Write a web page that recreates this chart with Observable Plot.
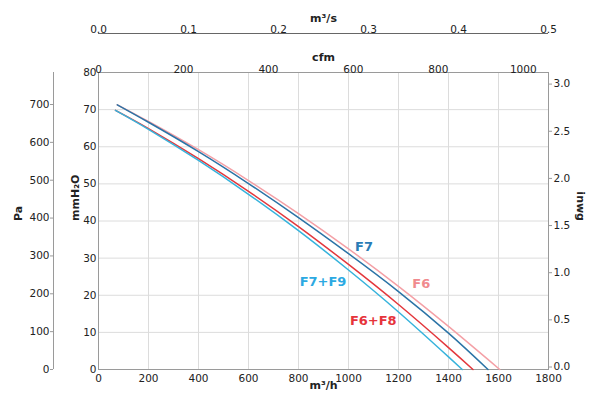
<!DOCTYPE html>
<html>
<head>
<meta charset="utf-8">
<script src="https://cdn.jsdelivr.net/npm/d3@7"></script>
<script src="https://cdn.jsdelivr.net/npm/@observablehq/plot@0.6"></script>
<style>
  html, body { margin: 0; padding: 0; background: #fff; }
  #chart svg { display: block; }
</style>
</head>
<body>
<div id="chart"></div>
<script>
// Flow (m³/h) and pressure (mmH2O)
const flowF6    = [75, 200, 400, 600, 800, 1000, 1200, 1400, 1605];
const presF6    = [71.3, 66.8, 59.2, 50.9, 42.0, 32.5, 22.4, 11.6, 0];
const flowF7    = [75, 200, 400, 600, 800, 1000, 1200, 1400, 1558];
const presF7    = [71.3, 66.6, 58.7, 50.1, 40.9, 31.2, 21.0, 9.8, 0];
const flowF6F8  = [68, 200, 400, 600, 800, 1000, 1200, 1400, 1498];
const presF6F8  = [69.8, 64.9, 56.8, 48.0, 38.5, 28.3, 17.5, 5.9, 0];
const flowF7F9  = [68, 200, 400, 600, 800, 1000, 1200, 1400, 1455];
const presF7F9  = [69.8, 64.7, 56.3, 47.2, 37.4, 26.8, 15.5, 3.4, 0];

const seriesNames  = ["F6", "F7", "F6+F8", "F7+F9"];
const seriesColors = ["#f4a0a6", "#2b73a6", "#e3373c", "#36b3dc"];
const labelColors  = ["#f08a8e", "#2a7cb6", "#e6343b", "#2ca9e2"];
// label anchor positions (m³/h, mmH2O)
const labelFlow = [1291, 1062, 1099, 898];
const labelPres = [23.2, 33.1, 13.2, 23.7];

// axis ticks
const ticksM3h  = [0, 200, 400, 600, 800, 1000, 1200, 1400, 1600, 1800];
const ticksMm   = [0, 10, 20, 30, 40, 50, 60, 70, 80];
const ticksPa   = [0, 100, 200, 300, 400, 500, 600, 700];
const ticksInwg = [0, 0.5, 1.0, 1.5, 2.0, 2.5, 3.0];
const ticksCfm  = [0, 200, 400, 600, 800, 1000];
const ticksM3s  = [0, 0.1, 0.2, 0.3, 0.4, 0.5];

const PA_PER_MM = 9.80665, MM_PER_INWG = 25.4, M3H_PER_CFM = 1.69901, M3H_PER_M3S = 3600;

const flows = [flowF6, flowF7, flowF6F8, flowF7F9];
const press = [presF6, presF7, presF6F8, presF7F9];
const rows = [];
seriesNames.forEach((s, i) => flows[i].forEach((q, j) => rows.push({series: s, q, p: press[i][j]})));
const labels = seriesNames.map((s, i) => ({series: s, q: labelFlow[i], p: labelPres[i], color: labelColors[i]}));

const txt = "#222";
const chart = Plot.plot({
  width: 590,
  height: 395,
  marginTop: 72,
  marginBottom: 26,
  marginLeft: 98,
  marginRight: 42,
  style: {fontFamily: "DejaVu Sans", fontSize: "10.5px", color: txt, background: "#fff"},
  x: {domain: [0, 1800]},
  y: {domain: [0, 80]},
  color: {domain: seriesNames, range: seriesColors},
  marks: [
    Plot.gridX(ticksM3h, {stroke: "#dcdcdc", strokeOpacity: 1}),
    Plot.gridY(ticksMm, {stroke: "#dcdcdc", strokeOpacity: 1}),
    Plot.frame({stroke: "#9a9a9a"}),
    // bottom m³/h
    Plot.axisX({anchor: "bottom", ticks: ticksM3h, tickFormat: d => String(d), tickSize: 0, tickPadding: 5, label: null}),
    // left mmH2O
    Plot.axisY({anchor: "left", ticks: ticksMm, tickFormat: d => String(d), tickSize: 0, tickPadding: 2, label: null}),
    // left Pa axis
    Plot.ruleX([0], {y1: 0, y2: 80, dx: -45, stroke: "#9a9a9a"}),
    Plot.axisY({anchor: "left", ticks: ticksPa.map(v => v / PA_PER_MM), tickFormat: d => String(Math.round(d * PA_PER_MM)), tickSize: 3, tickPadding: 1, dx: -45, stroke: "#9a9a9a", label: null}),
    // right inwg
    Plot.axisY({anchor: "right", ticks: ticksInwg.map(v => v * MM_PER_INWG), tickFormat: d => (d / MM_PER_INWG).toFixed(1), tickSize: 3, tickPadding: 2, dy: -2.5, stroke: "#9a9a9a", label: null}),
    // top cfm
    Plot.axisX({anchor: "top", ticks: ticksCfm.map(v => v * M3H_PER_CFM), tickFormat: d => String(Math.round(d / M3H_PER_CFM)), tickSize: 0, tickPadding: 0, label: null}),
    // top m³/s
    Plot.ruleY([80], {dy: -39, stroke: "#666"}),
    Plot.axisX({anchor: "top", ticks: ticksM3s.map(v => v * M3H_PER_M3S), tickFormat: d => (d / M3H_PER_M3S).toFixed(1), tickSize: 0, tickPadding: 1, dy: -39, label: null}),
    // curves
    Plot.line(rows, {x: "q", y: "p", z: "series", stroke: "series", strokeWidth: 1.5, curve: "natural"}),
    // series labels
    Plot.text(labels, {x: "q", y: "p", text: "series", fill: "color", fontWeight: "bold", fontSize: 13}),
    // axis titles
    Plot.text(["m³/h"], {frameAnchor: "bottom", dy: 19, fontWeight: "bold", fontSize: 11, fill: txt}),
    Plot.text(["cfm"], {frameAnchor: "top", dy: -19, fontWeight: "bold", fontSize: 11, fill: txt}),
    Plot.text(["m³/s"], {frameAnchor: "top", dy: -58, fontWeight: "bold", fontSize: 11, fill: txt}),
    Plot.text(["Pa"], {frameAnchor: "left", dx: -80, rotate: -90, fontWeight: "bold", fontSize: 11, fill: txt}),
    Plot.text(["mmH₂O"], {frameAnchor: "left", dx: -23, rotate: -90, fontWeight: "bold", fontSize: 11, fill: txt}),
    Plot.text(["inwg"], {frameAnchor: "right", dx: 32, rotate: 90, fontWeight: "bold", fontSize: 11, fill: txt})
  ]
});
document.getElementById("chart").appendChild(chart);
</script>
</body>
</html>
